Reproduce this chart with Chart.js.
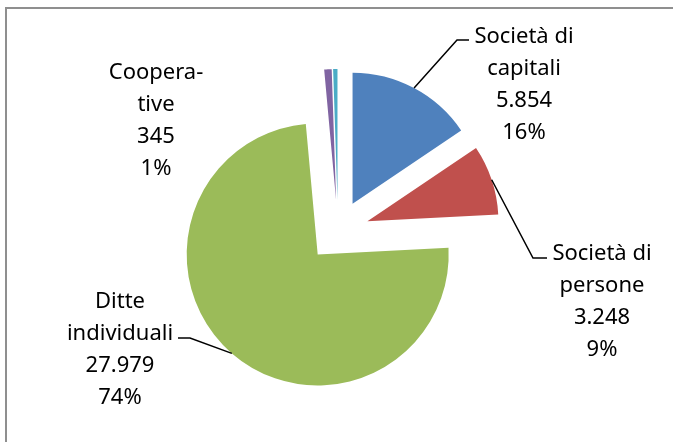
<!DOCTYPE html>
<html>
<head>
<meta charset="utf-8">
<script src="https://cdn.jsdelivr.net/npm/chart.js@4"></script>
<style>
  html, body { margin: 0; padding: 0; background: #fff; }
  #wrap { position: relative; width: 673px; height: 442px; overflow: hidden; }
</style>
</head>
<body>
<div id="wrap"><canvas id="pieChart" width="673" height="442"></canvas></div>
<script>
// data
const categories = [
  ["Società di", "capitali"],
  ["Società di", "persone"],
  ["Ditte", "individuali"],
  ["Coopera-", "tive"],
  ["Altre forme"]
];
const values = [5854, 3248, 27979, 345, 200];
const showLabel = [true, true, true, true, false];
const colors = ["#4F81BD", "#C0504D", "#9BBB59", "#8064A2", "#4BACC6"];

const EXPLODE = 31;   // px each slice is pulled out
const RADIUS = 131;

// label placement: text centre x, first baseline y, leader elbow and end
const labelPos = [
  { x: 524, y: 43, elbow: [457, 40], end: [469, 40] },
  { x: 602, y: 260, elbow: [533, 258], end: [547, 258] },
  { x: 120, y: 308, elbow: [190, 338], end: [178, 338] },
  { x: 156, y: 79, elbow: null, end: null },
  null
];

const total = values.reduce((a, b) => a + b, 0);
const fmt = v => v.toString().replace(/\B(?=(\d{3})+(?!\d))/g, ".");

// chart.js offset also grows the radius, so pull slices out by translating instead
const explodePlugin = {
  id: "explode",
  beforeDatasetsDraw(chart) {
    chart.getDatasetMeta(0).data.forEach(arc => {
      if (arc._exploded) return;
      const baseDraw = arc.draw;
      arc.draw = function (ctx, area) {
        const mid = (this.startAngle + this.endAngle) / 2;
        ctx.save();
        ctx.translate(Math.cos(mid) * EXPLODE, Math.sin(mid) * EXPLODE);
        baseDraw.call(this, ctx, area);
        ctx.restore();
      };
      arc._exploded = true;
    });
  }
};

const framePlugin = {
  id: "frame",
  afterDraw(chart) {
    const ctx = chart.ctx;
    ctx.save();
    ctx.strokeStyle = "#8f8f8f";
    ctx.lineWidth = 2;
    ctx.beginPath();
    ctx.moveTo(6, 460);
    ctx.lineTo(6, 8);
    ctx.lineTo(690, 8);
    ctx.stroke();
    ctx.restore();
  }
};

const labelPlugin = {
  id: "sliceLabels",
  afterDatasetsDraw(chart) {
    const ctx = chart.ctx;
    const arcs = chart.getDatasetMeta(0).data;
    ctx.save();
    ctx.font = "22px 'Noto Sans'";
    ctx.fillStyle = "#000";
    ctx.textAlign = "center";
    ctx.textBaseline = "alphabetic";
    arcs.forEach((arc, i) => {
      const pos = labelPos[i];
      if (!showLabel[i] || !pos) return;
      const { x, y, startAngle, endAngle, outerRadius } = arc.getProps(["x", "y", "startAngle", "endAngle", "outerRadius"], true);
      if (pos.elbow) {
        const mid = (startAngle + endAngle) / 2;
        const r = outerRadius + EXPLODE;
        ctx.beginPath();
        ctx.strokeStyle = "#000";
        ctx.lineWidth = 1.5;
        ctx.moveTo(x + Math.cos(mid) * r, y + Math.sin(mid) * r);
        ctx.lineTo(pos.elbow[0], pos.elbow[1]);
        ctx.lineTo(pos.end[0], pos.end[1]);
        ctx.stroke();
      }
      const pct = Math.round(values[i] / total * 100) + "%";
      const lines = categories[i].concat([fmt(values[i]), pct]);
      lines.forEach((t, k) => ctx.fillText(t, pos.x, pos.y + k * 32));
    });
    ctx.restore();
  }
};

new Chart(document.getElementById("pieChart"), {
  type: "pie",
  data: {
    labels: categories.map(c => c.join(" ")),
    datasets: [{
      data: values,
      backgroundColor: colors,
      borderWidth: 0
    }]
  },
  options: {
    responsive: false,
    animation: false,
    radius: RADIUS,
    layout: { padding: { left: 3, right: 0, top: 20, bottom: 0 } },
    plugins: {
      legend: { display: false },
      tooltip: { enabled: false }
    }
  },
  plugins: [explodePlugin, labelPlugin, framePlugin]
});
</script>
</body>
</html>
